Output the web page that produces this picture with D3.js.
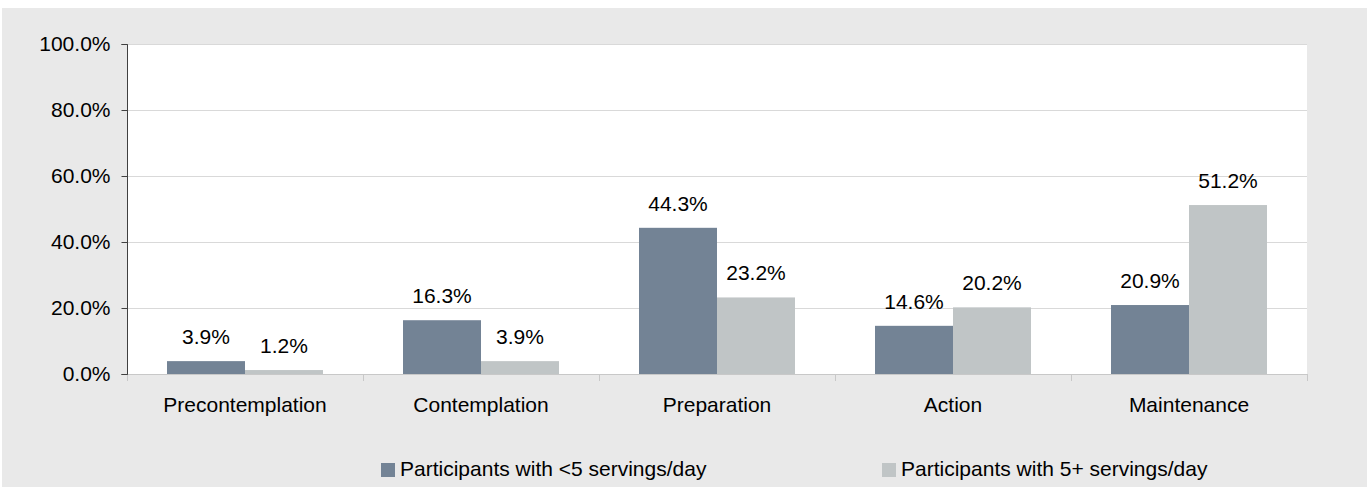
<!DOCTYPE html>
<html><head><meta charset="utf-8">
<script src="https://cdn.jsdelivr.net/npm/d3@7"></script>
<style>body{margin:0;background:#fff;}svg{display:block;font-family:"Liberation Sans",Arial,sans-serif;}</style>
</head><body><svg id="c" width="1367" height="487"></svg>
<script>
const categories = ["Precontemplation","Contemplation","Preparation","Action","Maintenance"];
const seriesNames = ["Participants with <5 servings/day","Participants with 5+ servings/day"];
const lessThan5 = [3.9,16.3,44.3,14.6,20.9];
const fivePlus = [1.2,3.9,23.2,20.2,51.2];
const yTicks = [0,20,40,60,80,100];
const colors = ["#738395","#c0c5c6"];
const FS = 21;

const svg = d3.select("#c");
svg.append("rect").attr("x",2).attr("y",8).attr("width",1365).attr("height",479).attr("fill","#e9e9e9");
const L=127,R=1307,T=44,B=374;
svg.append("rect").attr("x",L).attr("y",T).attr("width",R-L).attr("height",B-T).attr("fill","#fff");
const x = d3.scaleBand().domain(categories).range([L,R]).paddingInner(0).paddingOuter(0);
const x1 = d3.scaleBand().domain([0,1]).range([40, x.bandwidth()-40]);
const y = d3.scaleLinear().domain([0,100]).range([B,T]);

// gridlines
svg.append("g").selectAll("line").data(yTicks.filter(d=>d>0)).join("line")
 .attr("x1",L).attr("x2",R).attr("y1",d=>y(d)+0.5).attr("y2",d=>y(d)+0.5).attr("stroke","#d9d9d9").attr("stroke-width",1);

const series=[lessThan5,fivePlus];
series.forEach((vals,si)=>{
  svg.append("g").selectAll("rect").data(vals).join("rect")
   .attr("x",(d,i)=>x(categories[i])+x1(si)).attr("width",x1.bandwidth())
   .attr("y",d=>y(d)).attr("height",d=>B-y(d)).attr("fill",colors[si]);
  svg.append("g").selectAll("text").data(vals).join("text")
   .attr("x",(d,i)=>x(categories[i])+x1(si)+x1.bandwidth()/2).attr("y",d=>y(d)-17)
   .attr("text-anchor","middle").attr("font-size",FS).attr("fill","#000").text(d=>d.toFixed(1)+"%");
});

// x axis
const xa = svg.append("g");
xa.append("line").attr("x1",L).attr("x2",R).attr("y1",B+0.5).attr("y2",B+0.5).attr("stroke","#c8c8c8");
const bounds = categories.map(c=>x(c)).concat([R]);
xa.selectAll("line.t").data(bounds).join("line").attr("class","t")
 .attr("x1",d=>Math.round(d)+0.5).attr("x2",d=>Math.round(d)+0.5).attr("y1",B).attr("y2",B+7).attr("stroke","#c8c8c8");
xa.selectAll("text").data(categories).join("text")
 .attr("x",d=>x(d)+x.bandwidth()/2).attr("y",412).attr("text-anchor","middle").attr("font-size",FS).attr("fill","#000").text(d=>d);

// y axis
const ya = svg.append("g").attr("transform",`translate(${L+0.5},0)`)
 .call(d3.axisLeft(y).tickValues(yTicks).tickSize(6).tickFormat(d=>d.toFixed(1)+"%"));
ya.select(".domain").attr("stroke","#404040").attr("d",`M-6,${y(100)+0.5}H0V${B+0.5}H-6`);
ya.selectAll(".tick line").attr("stroke","#404040");
ya.selectAll(".tick text").attr("font-size",FS).attr("fill","#000").attr("x",-17).attr("font-family","Liberation Sans, Arial, sans-serif");

// legend
const legX=[381,882];
seriesNames.forEach((n,i)=>{
  svg.append("rect").attr("x",legX[i]).attr("y",463).attr("width",14).attr("height",14).attr("fill",colors[i]);
  svg.append("text").attr("x",legX[i]+19).attr("y",476).attr("font-size",FS).attr("fill","#000").text(n);
});
</script></body></html>
